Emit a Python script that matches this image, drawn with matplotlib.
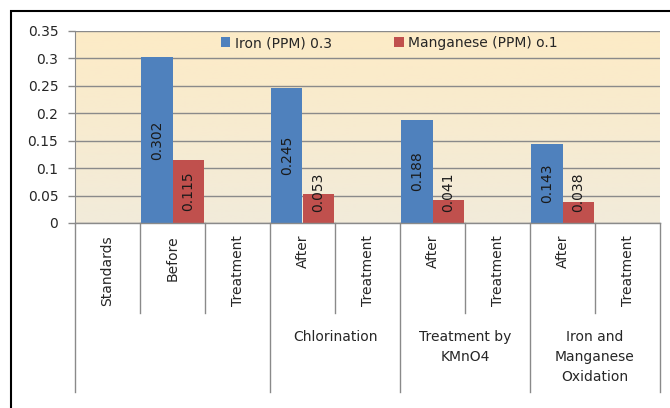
import matplotlib
matplotlib.use('Agg')
import matplotlib.pyplot as plt
import numpy as np
from matplotlib.patches import Rectangle
from matplotlib.colors import LinearSegmentedColormap

# data
categories = ['Standards', 'Before', 'Treatment', 'After', 'Treatment',
              'After', 'Treatment', 'After', 'Treatment']
groups = ['', 'Chlorination', 'Treatment by\nKMnO4', 'Iron and\nManganese\nOxidation']
group_sizes = [3, 2, 2, 2]
iron = [np.nan, 0.302, np.nan, 0.245, np.nan, 0.188, np.nan, 0.143, np.nan]
manganese = [np.nan, 0.115, np.nan, 0.053, np.nan, 0.041, np.nan, 0.038, np.nan]
iron_label = 'Iron (PPM) 0.3'
mn_label = 'Manganese (PPM) o.1'

plt.rcParams['font.family'] = ['DejaVu Sans']
txt_col = '#262626'

fig = plt.figure(figsize=(6.7, 4.08), dpi=100)
ax = fig.add_axes([75/670, 1-223/408, 585/670, (223-30.7)/408])

x = np.arange(len(categories))
w = 0.485
ymax = 0.35

# cream gradient background of the plot area
cmap = LinearSegmentedColormap.from_list('bg', ['#F2EBDA', '#FDEBC6'])
ax.imshow(np.linspace(0, 1, 100).reshape(-1, 1), cmap=cmap, aspect='auto',
          extent=[-0.5, len(categories)-0.5, 0, ymax], origin='lower', zorder=0)

b1 = ax.bar(x - w/2, iron, w, color='#4F81BD', label=iron_label, zorder=3)
b2 = ax.bar(x + w/2, manganese, w, color='#C0504D', label=mn_label, zorder=3)

# data labels, rotated, centred in the bar (kept off the axis for short bars)
for xs, vals in [(x - w/2, iron), (x + w/2, manganese)]:
    for xi, v in zip(xs, vals):
        if np.isnan(v):
            continue
        ax.text(xi, max(v/2, 0.0565), f'{v:g}', rotation=90, ha='center', va='center',
                fontsize=10, color='#1a1a1a', zorder=4)

ax.set_xlim(-0.5, len(categories)-0.5)
ax.set_ylim(0, ymax)
ax.set_yticks(np.arange(0, 0.351, 0.05))
ax.set_yticklabels(['0', '0.05', '0.1', '0.15', '0.2', '0.25', '0.3', '0.35'])
ax.tick_params(axis='y', length=5, width=1, color='#8a8a8a', pad=7,
               labelsize=10, labelcolor=txt_col)
ax.set_xticks([])
ax.grid(axis='y', color='#8a8a8a', lw=1, zorder=1)
ax.set_axisbelow(True)
for s in ['top', 'right', 'bottom']:
    ax.spines[s].set_visible(False)
ax.spines['left'].set_color('#8a8a8a')

# multi-level category axis
tr = ax.get_xaxis_transform()
ax.plot([-0.5, len(categories)-0.5], [0, 0], color='#8a8a8a', lw=1,
        transform=tr, clip_on=False, zorder=5)
for i, lab in enumerate(categories):
    ax.text(i, -0.062, lab, rotation=90, ha='center', va='top', fontsize=10,
            color=txt_col, transform=tr)
outer_edges = np.concatenate([[0], np.cumsum(group_sizes)]) - 0.5
for b in np.arange(len(categories) + 1) - 0.5:
    if b in outer_edges:
        ax.plot([b, b], [0, -0.878], color='#8a8a8a', lw=1, transform=tr, clip_on=False)
    else:
        ax.plot([b, b], [0, -0.468], color='#8a8a8a', lw=1, transform=tr, clip_on=False)
for g, lo, hi in zip(groups, outer_edges[:-1], outer_edges[1:]):
    ax.text((lo + hi)/2, -0.555, g, ha='center', va='top', fontsize=10,
            color=txt_col, linespacing=1.55, transform=tr)

ax.legend(loc='center', bbox_to_anchor=(0.537, 0.936), ncol=2, frameon=False,
          handlelength=0.7, handleheight=0.7, handletextpad=0.3, columnspacing=4.5,
          fontsize=10, labelcolor=txt_col)

# outer chart border, cut by the image edge on the right and bottom
fig.patches.append(Rectangle((10.5/670, -0.1), 1.2, 1-10.5/408+0.1,
                             transform=fig.transFigure, fill=False,
                             edgecolor='black', lw=1.5))

fig.savefig('out.png', dpi=100)
